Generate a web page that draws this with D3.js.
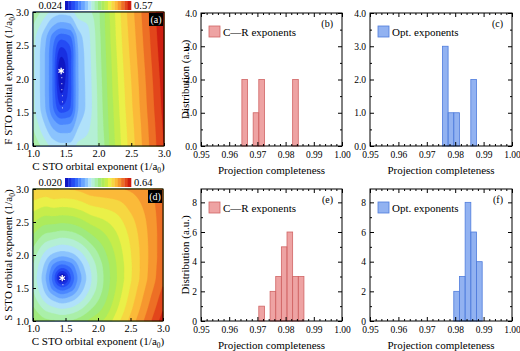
<!doctype html>
<html lang="en">
<head>
<meta charset="utf-8">
<title></title>
<script src="https://d3js.org/d3.v7.min.js"></script>
<style type="text/css">
  body { margin:0; background:#fff; }
  svg text { font-family:"Liberation Serif","Times New Roman",serif; }
  .frame { fill:none; stroke:#000; stroke-width:1; }
  .axis path { display:none; }
  .axis line { stroke:#000; }
</style>
</head>
<body>
<script type="text/javascript">

  // ---- contour maps: deviation grids ----
  // panel (a): C exponent (columns) x F exponent (rows, bottom to top)
  var cExpA = [1.0, 1.2, 1.3, 1.43, 1.56, 1.7, 1.85, 2.0, 2.2, 2.4, 2.6, 2.8, 3.0];
  var fExpA = [1.0, 1.3, 1.6, 1.85, 2.12, 2.35, 2.6, 2.8, 3.0];
  var gridA = [
    [0.293, 0.252, 0.233, 0.224, 0.224, 0.252, 0.255, 0.271, 0.335, 0.394, 0.444, 0.494, 0.544],
    [0.267, 0.211, 0.182, 0.164, 0.167, 0.214, 0.238, 0.273, 0.339, 0.398, 0.448, 0.498, 0.548],
    [0.251, 0.182, 0.135, 0.079, 0.100, 0.190, 0.227, 0.275, 0.343, 0.403, 0.453, 0.503, 0.553],
    [0.250, 0.180, 0.130, 0.044, 0.091, 0.189, 0.228, 0.277, 0.347, 0.406, 0.456, 0.506, 0.556],
    [0.250, 0.180, 0.130, 0.024, 0.090, 0.190, 0.230, 0.280, 0.350, 0.410, 0.460, 0.510, 0.560],
    [0.250, 0.180, 0.131, 0.054, 0.092, 0.191, 0.232, 0.283, 0.353, 0.414, 0.464, 0.514, 0.564],
    [0.254, 0.188, 0.146, 0.109, 0.122, 0.199, 0.236, 0.285, 0.357, 0.418, 0.468, 0.518, 0.568],
    [0.270, 0.217, 0.190, 0.174, 0.180, 0.227, 0.244, 0.289, 0.359, 0.421, 0.471, 0.521, 0.571],
    [0.293, 0.252, 0.233, 0.224, 0.228, 0.261, 0.265, 0.292, 0.362, 0.424, 0.474, 0.524, 0.574]
  ];
  var rangeA = [0.024, 0.57];
  var starA = [1.43, 2.12];
  var dotsA = [[1.44, 2.02], [1.44, 1.93], [1.44, 1.84], [1.45, 1.75], [1.45, 1.66], [1.45, 1.57]];

  // panel (d): C exponent (columns) x S exponent (rows, bottom to top)
  var cExpD = [1.0, 1.2, 1.32, 1.45, 1.58, 1.72, 1.9, 2.1, 2.3, 2.5, 2.75, 3.0];
  var sExpD = [1.0, 1.2, 1.4, 1.52, 1.65, 1.8, 2.0, 2.25, 2.5, 2.75, 3.0];
  var gridD = [
    [0.370, 0.338, 0.333, 0.327, 0.332, 0.345, 0.372, 0.397, 0.444, 0.495, 0.559, 0.625],
    [0.334, 0.286, 0.271, 0.262, 0.269, 0.289, 0.326, 0.367, 0.421, 0.476, 0.542, 0.606],
    [0.306, 0.237, 0.201, 0.177, 0.195, 0.235, 0.289, 0.345, 0.405, 0.462, 0.528, 0.590],
    [0.296, 0.215, 0.149, 0.107, 0.141, 0.209, 0.273, 0.337, 0.398, 0.455, 0.520, 0.580],
    [0.291, 0.203, 0.122, 0.020, 0.110, 0.193, 0.267, 0.334, 0.394, 0.449, 0.513, 0.573],
    [0.296, 0.216, 0.152, 0.111, 0.143, 0.210, 0.274, 0.337, 0.395, 0.448, 0.511, 0.570],
    [0.315, 0.253, 0.227, 0.214, 0.224, 0.253, 0.300, 0.352, 0.402, 0.451, 0.510, 0.567],
    [0.351, 0.311, 0.302, 0.295, 0.300, 0.316, 0.348, 0.381, 0.418, 0.459, 0.512, 0.566],
    [0.394, 0.370, 0.369, 0.365, 0.368, 0.379, 0.401, 0.418, 0.441, 0.473, 0.517, 0.566],
    [0.440, 0.426, 0.431, 0.428, 0.430, 0.438, 0.454, 0.462, 0.472, 0.495, 0.526, 0.567],
    [0.486, 0.479, 0.488, 0.486, 0.487, 0.493, 0.506, 0.510, 0.514, 0.520, 0.536, 0.571]
  ];
  var rangeD = [0.020, 0.64];
  var starD = [1.45, 1.65];
  var dotsD = [[1.46, 1.55]];

  var expTicks = [1.0, 1.5, 2.0, 2.5, 3.0];

  // ---- histograms of projection completeness ----
  var binWidth = 0.002;
  var binsB = [0.9655, 0.9695, 0.9715, 0.9835];
  var countsB = [2, 1, 2, 2];
  var binsC = [0.9765, 0.9785, 0.9805, 0.9865];
  var countsC = [3, 1, 1, 2];
  var binsE = [0.9715, 0.9755, 0.9775, 0.9795, 0.9815, 0.9835, 0.9855];
  var countsE = [1, 2, 3, 5, 6, 3, 3];
  var binsF = [0.9805, 0.9825, 0.9845, 0.9865, 0.9885];
  var countsF = [2, 3, 8, 6, 4];
  var completenessTicks = [0.95, 0.96, 0.97, 0.98, 0.99, 1.00];
  var distTicksTop = [0, 1, 2, 3, 4];
  var distTicksBottom = [0, 2, 4, 6, 8];

  var serif = '"Liberation Serif","Times New Roman",serif';

  // rainbow palette of the colour bars
  var cmap = d3.scaleLinear()
    .domain([0, 0.1, 0.2, 0.3, 0.38, 0.44, 0.52, 0.6, 0.68, 0.76, 0.84, 0.92, 1])
    .range(["#0a0ab4", "#1c3cf0", "#3c78ff", "#78b4ff", "#b4e4fa", "#b4f2c8", "#9eea80",
            "#b4ec4c", "#eef048", "#fcc43c", "#f48c2c", "#e44a1c", "#c40a0a"])
    .interpolate(d3.interpolateRgb)
    .clamp(true);

  var svg = d3.select("body")
    .append("svg")
    .attr("width", 520)
    .attr("height", 351);

  // monotone cubic through the read grid values
  function monotone(xs, ys) {
    var n = xs.length, d = [], m = [];
    for (var i = 0; i < n - 1; i++) d.push((ys[i+1] - ys[i]) / (xs[i+1] - xs[i]));
    m[0] = d[0]; m[n-1] = d[n-2];
    for (var i = 1; i < n - 1; i++) {
      if (d[i-1] * d[i] <= 0) m[i] = 0;
      else {
        var h0 = xs[i] - xs[i-1], h1 = xs[i+1] - xs[i];
        var w1 = 2*h1 + h0, w2 = h1 + 2*h0;
        m[i] = (w1 + w2) / (w1 / d[i-1] + w2 / d[i]);
      }
    }
    return function(x) {
      var k = Math.max(0, Math.min(n - 2, d3.bisectRight(xs, x) - 1));
      var h = xs[k+1] - xs[k], t = (x - xs[k]) / h, t2 = t*t, t3 = t2*t;
      return (2*t3 - 3*t2 + 1)*ys[k] + (t3 - 2*t2 + t)*h*m[k]
           + (-2*t3 + 3*t2)*ys[k+1] + (t3 - t2)*h*m[k+1];
    };
  }

  function contourPanel(p, cs, ys, grid, range, yName, tag, star, dots) {
    var x = d3.scaleLinear().domain([1, 3]).range([p.x, p.x + p.w]);
    var y = d3.scaleLinear().domain([1, 3]).range([p.y + p.h, p.y]);
    var nx = Math.round(p.w), ny = Math.round(p.h);
    var gx = d3.scaleLinear().domain([0, nx]).range([p.x, p.x + p.w]);
    var gy = d3.scaleLinear().domain([0, ny]).range([p.y, p.y + p.h]);
    var fc = d3.range(nx).map(i => x.invert(gx(i + 0.5)));
    var fy = d3.range(ny).map(j => y.invert(gy(j + 0.5)));
    var rows = grid.map(r => fc.map(monotone(cs, r)));
    var vals = new Array(nx * ny);
    for (var i = 0; i < nx; i++) {
      var f = monotone(ys, rows.map(r => r[i]));
      for (var j = 0; j < ny; j++) vals[j * nx + i] = f(fy[j]);
    }
    var nb = 20;
    var levels = d3.range(nb).map(k => range[0] + k * (range[1] - range[0]) / nb);
    levels[0] = -1;
    var bands = d3.contours().size([nx, ny]).thresholds(levels)(vals);
    var path = d3.geoPath(d3.geoTransform({
      point: function(u, v) { this.stream.point(gx(u), gy(v)); }
    }));
    var g = svg.append("g");
    g.selectAll("path.band")
      .data(bands)
      .join("path")
      .attr("class", "band")
      .attr("d", path)
      .attr("fill", (d, k) => cmap((k + 0.5) / nb))
      .attr("stroke", (d, k) => cmap((k + 0.5) / nb))
      .attr("stroke-width", 0.3);

    // white markers
    g.selectAll("circle.dot")
      .data(dots)
      .join("circle")
      .attr("cx", d => x(d[0]))
      .attr("cy", d => y(d[1]))
      .attr("r", 0.6)
      .attr("fill", "#fff")
      .attr("opacity", 0.8);
    g.append("path")
      .attr("transform", "translate(" + x(star[0]) + "," + y(star[1]) + ")")
      .attr("d", d3.symbol().type(d3.symbolAsterisk || d3.symbolCross).size(28)())
      .attr("fill", "none")
      .attr("stroke", "#fff")
      .attr("stroke-width", 1.3);

    // axes
    var fmt = d3.format(".1f");
    g.append("g").attr("class", "axis")
      .attr("transform", "translate(0," + (p.y + p.h) + ")")
      .call(d3.axisBottom(x).tickValues(expTicks).tickSize(-3).tickPadding(4).tickFormat(fmt))
      .attr("font-family", serif).attr("font-size", 10.5);
    g.append("g").attr("class", "axis")
      .attr("transform", "translate(" + p.x + ",0)")
      .call(d3.axisLeft(y).tickValues(expTicks).tickSize(-3).tickPadding(4).tickFormat(fmt))
      .attr("font-family", serif).attr("font-size", 10.5);
    g.append("rect").attr("class", "frame")
      .attr("x", p.x).attr("y", p.y).attr("width", p.w).attr("height", p.h);

    // titles
    var xt = g.append("text")
      .attr("x", p.x + p.w / 2).attr("y", p.y + p.h + 24)
      .attr("text-anchor", "middle").attr("font-size", 11);
    xt.append("tspan").text("C STO orbital exponent (1/a");
    xt.append("tspan").attr("font-size", 7.5).attr("dy", 2.5).text("0");
    xt.append("tspan").attr("dy", -2.5).text(")");
    var yt = g.append("text")
      .attr("transform", "translate(" + (p.x - 21) + "," + (p.y + p.h / 2) + ") rotate(-90)")
      .attr("text-anchor", "middle").attr("font-size", 11);
    yt.append("tspan").text(yName + " STO orbital exponent (1/a");
    yt.append("tspan").attr("font-size", 7.5).attr("dy", 2.5).text("0");
    yt.append("tspan").attr("dy", -2.5).text(")");

    // panel tag
    g.append("rect").attr("x", p.x + p.w - 15).attr("y", p.y + 1)
      .attr("width", 14).attr("height", 13).attr("fill", "#000");
    g.append("text").attr("x", p.x + p.w - 8).attr("y", p.y + 11)
      .attr("text-anchor", "middle").attr("font-size", 10).attr("fill", "#fff").text(tag);

    // colour bar
    var cb = d3.scaleLinear().domain([0, nb]).range([p.x + 32, p.x + 98]);
    g.selectAll("rect.cb")
      .data(d3.range(nb))
      .join("rect")
      .attr("class", "cb")
      .attr("x", k => cb(k)).attr("width", k => cb(k + 1) - cb(k) + 0.3)
      .attr("y", p.y - 11).attr("height", 9)
      .attr("fill", k => cmap((k + 0.5) / nb));
    g.append("text").attr("x", cb(0) - 3).attr("y", p.y - 3)
      .attr("text-anchor", "end").attr("font-size", 10.5).text(d3.format(".3f")(range[0]));
    g.append("text").attr("x", cb(nb) + 3).attr("y", p.y - 3)
      .attr("font-size", 10.5).text(d3.format(".2f")(range[1]));
  }

  function histPanel(p, bins, counts, yMax, yTicks, fill, stroke, legendText, tag, yTitle) {
    var x = d3.scaleLinear().domain([0.95, 1.0]).range([p.x, p.x + p.w]);
    var y = d3.scaleLinear().domain([0, yMax]).range([p.y + p.h, p.y]);
    var g = svg.append("g");
    g.selectAll("rect.bar")
      .data(bins.map((b, i) => ({ b: b, n: counts[i] })))
      .join("rect")
      .attr("class", "bar")
      .attr("x", d => x(d.b - binWidth / 2))
      .attr("width", d => x(d.b + binWidth / 2) - x(d.b - binWidth / 2))
      .attr("y", d => y(d.n))
      .attr("height", d => y(0) - y(d.n))
      .attr("fill", fill)
      .attr("stroke", stroke)
      .attr("stroke-width", 0.8);

    var minorX = d3.range(26).filter(k => k % 5 !== 0).map(k => 0.95 + k * 0.002);
    var step = yTicks[1] - yTicks[0];
    var minorY = yTicks.map(t => t + step / 2).filter(t => t < yMax);
    var fmt = d3.format(".2f");

    g.append("g").attr("class", "axis")
      .attr("transform", "translate(0," + (p.y + p.h) + ")")
      .call(d3.axisBottom(x).tickValues(completenessTicks).tickSize(-4).tickPadding(5).tickFormat(fmt))
      .attr("font-family", serif).attr("font-size", 9.5);
    g.append("g").attr("class", "axis")
      .attr("transform", "translate(0," + (p.y + p.h) + ")")
      .call(d3.axisBottom(x).tickValues(minorX).tickSize(-2).tickFormat(""));
    g.append("g").attr("class", "axis")
      .attr("transform", "translate(0," + p.y + ")")
      .call(d3.axisTop(x).tickValues(completenessTicks).tickSize(-4).tickFormat(""));
    g.append("g").attr("class", "axis")
      .attr("transform", "translate(0," + p.y + ")")
      .call(d3.axisTop(x).tickValues(minorX).tickSize(-2).tickFormat(""));
    g.append("g").attr("class", "axis")
      .attr("transform", "translate(" + p.x + ",0)")
      .call(d3.axisLeft(y).tickValues(yTicks).tickSize(-4).tickPadding(4))
      .attr("font-family", serif).attr("font-size", 9.5);
    g.append("g").attr("class", "axis")
      .attr("transform", "translate(" + p.x + ",0)")
      .call(d3.axisLeft(y).tickValues(minorY).tickSize(-2).tickFormat(""));
    g.append("g").attr("class", "axis")
      .attr("transform", "translate(" + (p.x + p.w) + ",0)")
      .call(d3.axisRight(y).tickValues(yTicks).tickSize(-4).tickFormat(""));
    g.append("g").attr("class", "axis")
      .attr("transform", "translate(" + (p.x + p.w) + ",0)")
      .call(d3.axisRight(y).tickValues(minorY).tickSize(-2).tickFormat(""));
    g.append("rect").attr("class", "frame")
      .attr("x", p.x).attr("y", p.y).attr("width", p.w).attr("height", p.h);

    g.append("text")
      .attr("x", p.x + p.w / 2).attr("y", p.y + p.h + 28)
      .attr("text-anchor", "middle").attr("font-size", 11)
      .text("Projection completeness");
    if (yTitle) {
      g.append("text")
        .attr("transform", "translate(" + (p.x - 12) + "," + (p.y + p.h / 2) + ") rotate(-90)")
        .attr("text-anchor", "middle").attr("font-size", 11)
        .text("Distribution (a.u.)");
    }

    // legend and tag
    g.append("rect").attr("x", p.x + 8).attr("y", p.y + 13)
      .attr("width", 11).attr("height", 11)
      .attr("fill", fill).attr("stroke", stroke).attr("stroke-width", 0.8);
    g.append("text").attr("x", p.x + 22).attr("y", p.y + 23)
      .attr("font-size", 11).text(legendText);
    g.append("text").attr("x", p.x + p.w - 9).attr("y", p.y + 14)
      .attr("text-anchor", "end").attr("font-size", 10).text(tag);
  }

  contourPanel({x: 33, y: 12, w: 131, h: 134}, cExpA, fExpA, gridA, rangeA, "F", "(a)", starA, dotsA);
  contourPanel({x: 33, y: 189, w: 130, h: 132}, cExpD, sExpD, gridD, rangeD, "S", "(d)", starD, dotsD);

  var redFill = "rgba(232,128,128,0.72)", redLine = "#d06464";
  var blueFill = "rgba(110,152,236,0.75)", blueLine = "#4f7cdc";
  histPanel({x: 201, y: 13, w: 141, h: 133}, binsB, countsB, 4, distTicksTop, redFill, redLine, "C\u2014R exponents", "(b)", true);
  histPanel({x: 370, y: 13, w: 142, h: 133}, binsC, countsC, 4, distTicksTop, blueFill, blueLine, "Opt. exponents", "(c)", false);
  histPanel({x: 201, y: 189, w: 141, h: 132}, binsE, countsE, 8.9, distTicksBottom, redFill, redLine, "C\u2014R exponents", "(e)", true);
  histPanel({x: 370, y: 189, w: 142, h: 132}, binsF, countsF, 8.9, distTicksBottom, blueFill, blueLine, "Opt. exponents", "(f)", false);

</script>
</body>
</html>
